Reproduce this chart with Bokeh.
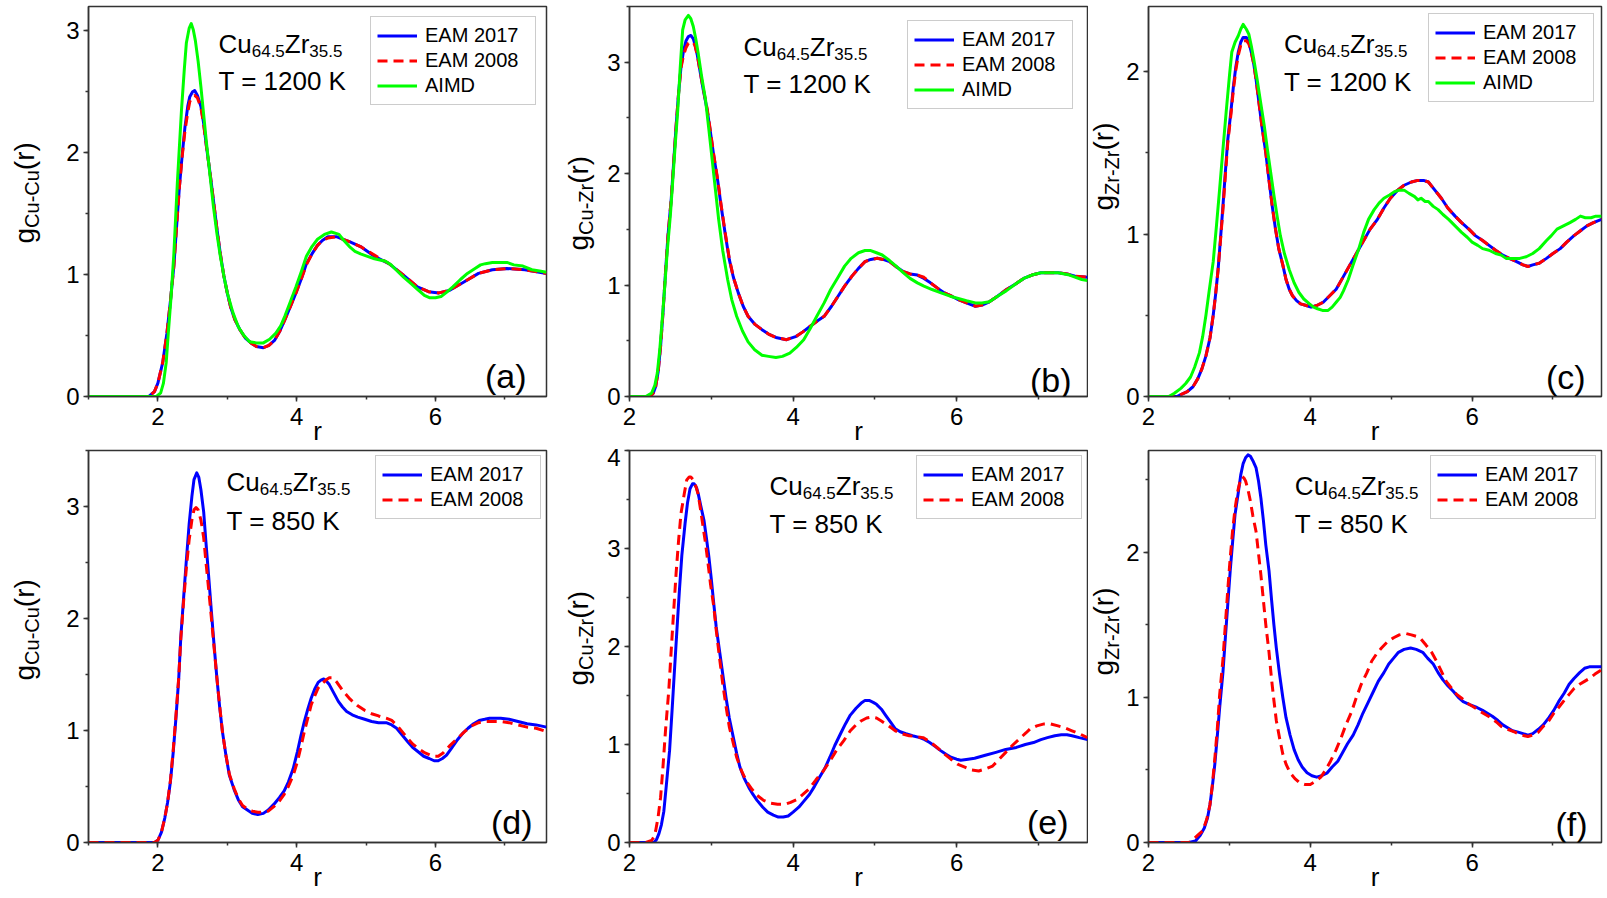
from math import pi

from bokeh.core.properties import value
from bokeh.embed import file_html
from bokeh.layouts import column, row
from bokeh.models import Label, Range1d, SingleIntervalTicker
from bokeh.plotting import figure
from bokeh.resources import INLINE

FONT = "Liberation Sans"
BLUE, RED, GREEN = "#0000FF", "#FF0000", "#00FF00"
AXIS = "#333333"

# ---------------------------------------------------------------- data
# (a) Cu-Cu, 1200 K
r_a = [
    1.00, 1.87, 1.95, 2.00, 2.07, 2.13, 2.18, 2.23, 2.27, 2.31,
    2.35, 2.39, 2.43, 2.46, 2.50, 2.53, 2.57, 2.62, 2.66, 2.70,
    2.75, 2.80, 2.85, 2.90, 2.95, 3.00, 3.05, 3.11, 3.18, 3.26,
    3.34, 3.42, 3.52, 3.60, 3.68, 3.76, 3.83, 3.91, 3.99, 4.07,
    4.14, 4.22, 4.30, 4.37, 4.45, 4.58, 4.67, 4.76, 4.92, 5.12,
    5.33, 5.53, 5.74, 5.90, 6.05, 6.20, 6.41, 6.62, 6.82, 7.03,
    7.29, 7.60]
g_a_2017 = [
    0.00, 0.00, 0.04, 0.11, 0.28, 0.52, 0.78, 1.07, 1.40, 1.72,
    1.98, 2.21, 2.38, 2.46, 2.50, 2.51, 2.47, 2.38, 2.24, 2.05,
    1.84, 1.61, 1.38, 1.17, 0.99, 0.85, 0.73, 0.63, 0.55, 0.48,
    0.44, 0.41, 0.40, 0.42, 0.46, 0.54, 0.63, 0.74, 0.85, 0.97,
    1.09, 1.17, 1.24, 1.28, 1.31, 1.31, 1.29, 1.27, 1.23, 1.15,
    1.09, 1.00, 0.90, 0.86, 0.85, 0.87, 0.94, 1.01, 1.04, 1.05,
    1.04, 1.01]
g_a_2008 = [
    0.00, 0.00, 0.04, 0.11, 0.28, 0.52, 0.78, 1.07, 1.40, 1.72,
    1.97, 2.18, 2.33, 2.42, 2.46, 2.47, 2.45, 2.37, 2.23, 2.05,
    1.84, 1.61, 1.38, 1.17, 0.99, 0.85, 0.73, 0.63, 0.55, 0.48,
    0.44, 0.41, 0.40, 0.42, 0.46, 0.54, 0.63, 0.74, 0.85, 0.97,
    1.08, 1.17, 1.24, 1.28, 1.30, 1.31, 1.29, 1.27, 1.23, 1.16,
    1.09, 1.00, 0.90, 0.86, 0.85, 0.87, 0.94, 1.01, 1.04, 1.05,
    1.04, 1.01]
r_a_aimd = [
    1.00, 1.98, 2.04, 2.08, 2.12, 2.15, 2.19, 2.23, 2.28, 2.34,
    2.38, 2.41, 2.45, 2.48, 2.51, 2.54, 2.58, 2.62, 2.66, 2.70,
    2.75, 2.80, 2.85, 2.90, 2.95, 3.00, 3.08, 3.16, 3.24, 3.32,
    3.42, 3.52, 3.61, 3.70, 3.77, 3.83, 3.91, 3.99, 4.07, 4.14,
    4.22, 4.30, 4.40, 4.50, 4.61, 4.68, 4.76, 4.84, 4.92, 5.02,
    5.12, 5.20, 5.28, 5.36, 5.43, 5.54, 5.64, 5.74, 5.84, 5.92,
    6.00, 6.08, 6.15, 6.25, 6.36, 6.46, 6.57, 6.65, 6.72, 6.82,
    6.93, 7.03, 7.13, 7.26, 7.39, 7.50, 7.60]
g_a_aimd = [
    0.00, 0.00, 0.03, 0.11, 0.28, 0.52, 0.82, 1.17, 1.75, 2.35,
    2.68, 2.90, 3.02, 3.06, 3.01, 2.92, 2.75, 2.54, 2.31, 2.08,
    1.82, 1.56, 1.34, 1.15, 0.99, 0.85, 0.69, 0.57, 0.50, 0.45,
    0.44, 0.44, 0.47, 0.52, 0.58, 0.66, 0.78, 0.90, 1.03, 1.15,
    1.23, 1.29, 1.33, 1.35, 1.33, 1.28, 1.23, 1.19, 1.17, 1.15,
    1.13, 1.12, 1.11, 1.08, 1.04, 0.98, 0.93, 0.88, 0.83, 0.81,
    0.81, 0.82, 0.85, 0.90, 0.96, 1.01, 1.05, 1.08, 1.09, 1.10,
    1.10, 1.10, 1.08, 1.07, 1.04, 1.03, 1.02]

# (b) Cu-Zr, 1200 K
r_b = [
    2.00, 2.25, 2.29, 2.32, 2.35, 2.38, 2.41, 2.44, 2.47, 2.51,
    2.54, 2.57, 2.60, 2.63, 2.66, 2.69, 2.72, 2.75, 2.78, 2.80,
    2.83, 2.86, 2.90, 2.95, 2.99, 3.03, 3.08, 3.12, 3.17, 3.22,
    3.27, 3.33, 3.39, 3.45, 3.53, 3.62, 3.70, 3.79, 3.92, 4.04,
    4.12, 4.21, 4.30, 4.38, 4.47, 4.55, 4.63, 4.72, 4.80, 4.88,
    4.95, 5.03, 5.10, 5.18, 5.27, 5.35, 5.43, 5.52, 5.60, 5.68,
    5.77, 5.85, 5.94, 6.02, 6.12, 6.23, 6.31, 6.40, 6.50, 6.61,
    6.72, 6.82, 6.92, 7.03, 7.13, 7.24, 7.35, 7.45, 7.60]
g_b_2017 = [
    0.00, 0.00, 0.03, 0.09, 0.22, 0.45, 0.76, 1.11, 1.44, 1.77,
    2.10, 2.43, 2.72, 2.96, 3.10, 3.19, 3.23, 3.24, 3.21, 3.16,
    3.06, 2.93, 2.76, 2.57, 2.37, 2.16, 1.93, 1.71, 1.46, 1.23,
    1.07, 0.93, 0.81, 0.72, 0.65, 0.60, 0.56, 0.53, 0.51, 0.54,
    0.58, 0.63, 0.68, 0.72, 0.81, 0.90, 0.99, 1.08, 1.15, 1.21,
    1.23, 1.24, 1.23, 1.21, 1.16, 1.12, 1.10, 1.09, 1.06, 1.02,
    0.97, 0.93, 0.90, 0.87, 0.84, 0.81, 0.82, 0.85, 0.90, 0.96,
    1.01, 1.06, 1.09, 1.11, 1.11, 1.11, 1.10, 1.08, 1.07]
g_b_2008 = [
    0.00, 0.00, 0.03, 0.09, 0.22, 0.45, 0.76, 1.11, 1.44, 1.77,
    2.10, 2.43, 2.72, 2.95, 3.06, 3.13, 3.17, 3.18, 3.18, 3.15,
    3.06, 2.93, 2.77, 2.58, 2.38, 2.17, 1.94, 1.72, 1.47, 1.24,
    1.07, 0.93, 0.81, 0.72, 0.65, 0.60, 0.56, 0.53, 0.51, 0.54,
    0.58, 0.63, 0.68, 0.72, 0.81, 0.90, 0.99, 1.08, 1.15, 1.21,
    1.23, 1.24, 1.23, 1.21, 1.16, 1.12, 1.10, 1.09, 1.07, 1.02,
    0.97, 0.93, 0.90, 0.87, 0.84, 0.81, 0.82, 0.85, 0.90, 0.96,
    1.01, 1.06, 1.09, 1.11, 1.11, 1.11, 1.10, 1.08, 1.07]
r_b_aimd = [
    2.00, 2.20, 2.27, 2.31, 2.34, 2.37, 2.40, 2.43, 2.46, 2.50,
    2.53, 2.56, 2.59, 2.62, 2.65, 2.68, 2.72, 2.75, 2.78, 2.81,
    2.84, 2.88, 2.93, 2.97, 3.01, 3.05, 3.09, 3.14, 3.20, 3.25,
    3.31, 3.38, 3.45, 3.53, 3.62, 3.70, 3.79, 3.87, 3.96, 4.04,
    4.13, 4.21, 4.29, 4.38, 4.46, 4.55, 4.63, 4.71, 4.80, 4.88,
    4.95, 5.02, 5.09, 5.18, 5.26, 5.35, 5.43, 5.52, 5.60, 5.70,
    5.81, 5.92, 6.02, 6.12, 6.23, 6.31, 6.40, 6.50, 6.61, 6.72,
    6.82, 6.92, 7.03, 7.13, 7.24, 7.38, 7.53, 7.60]
g_b_aimd = [
    0.00, 0.00, 0.03, 0.10, 0.21, 0.42, 0.69, 0.98, 1.29, 1.63,
    1.95, 2.27, 2.57, 2.95, 3.29, 3.38, 3.42, 3.39, 3.32, 3.21,
    3.08, 2.88, 2.66, 2.40, 2.13, 1.86, 1.59, 1.31, 1.05, 0.87,
    0.72, 0.59, 0.49, 0.42, 0.37, 0.36, 0.35, 0.36, 0.39, 0.44,
    0.51, 0.61, 0.72, 0.84, 0.96, 1.07, 1.17, 1.24, 1.29, 1.31,
    1.31, 1.29, 1.27, 1.22, 1.17, 1.11, 1.06, 1.02, 0.99, 0.96,
    0.93, 0.90, 0.88, 0.86, 0.84, 0.84, 0.85, 0.90, 0.95, 1.01,
    1.06, 1.09, 1.11, 1.11, 1.11, 1.09, 1.05, 1.04]

# (c) Zr-Zr, 1200 K
r_c = [
    2.00, 2.35, 2.48, 2.55, 2.61, 2.66, 2.71, 2.76, 2.80, 2.83,
    2.86, 2.89, 2.92, 2.95, 2.98, 3.02, 3.05, 3.08, 3.11, 3.14,
    3.17, 3.21, 3.24, 3.27, 3.30, 3.33, 3.36, 3.40, 3.45, 3.49,
    3.53, 3.57, 3.61, 3.66, 3.70, 3.74, 3.78, 3.83, 3.88, 3.95,
    4.01, 4.08, 4.16, 4.24, 4.32, 4.40, 4.49, 4.57, 4.66, 4.74,
    4.83, 4.91, 4.99, 5.08, 5.16, 5.25, 5.33, 5.40, 5.46, 5.54,
    5.62, 5.70, 5.79, 5.87, 5.96, 6.04, 6.13, 6.21, 6.29, 6.38,
    6.46, 6.55, 6.63, 6.69, 6.75, 6.83, 6.92, 7.00, 7.09, 7.17,
    7.26, 7.34, 7.42, 7.50, 7.60]
g_c_2017 = [
    0.00, 0.00, 0.03, 0.06, 0.11, 0.17, 0.25, 0.36, 0.50, 0.63,
    0.78, 0.97, 1.17, 1.38, 1.58, 1.76, 1.91, 2.03, 2.12, 2.18,
    2.21, 2.21, 2.18, 2.12, 2.05, 1.95, 1.83, 1.67, 1.50, 1.33,
    1.17, 1.03, 0.91, 0.81, 0.72, 0.66, 0.62, 0.59, 0.57, 0.56,
    0.55, 0.56, 0.58, 0.62, 0.66, 0.73, 0.81, 0.88, 0.96, 1.03,
    1.09, 1.16, 1.22, 1.27, 1.30, 1.32, 1.33, 1.33, 1.32, 1.27,
    1.22, 1.16, 1.11, 1.07, 1.03, 0.99, 0.96, 0.93, 0.90, 0.87,
    0.85, 0.83, 0.81, 0.80, 0.81, 0.82, 0.85, 0.88, 0.91, 0.95,
    0.99, 1.02, 1.05, 1.07, 1.09]
g_c_2008 = [
    0.00, 0.00, 0.03, 0.06, 0.11, 0.17, 0.25, 0.36, 0.50, 0.63,
    0.78, 0.96, 1.15, 1.36, 1.56, 1.74, 1.89, 2.01, 2.10, 2.16,
    2.19, 2.19, 2.17, 2.12, 2.05, 1.95, 1.83, 1.67, 1.50, 1.33,
    1.17, 1.03, 0.91, 0.81, 0.72, 0.66, 0.62, 0.59, 0.57, 0.56,
    0.55, 0.56, 0.58, 0.62, 0.66, 0.73, 0.81, 0.88, 0.96, 1.03,
    1.09, 1.16, 1.22, 1.27, 1.30, 1.32, 1.33, 1.33, 1.32, 1.27,
    1.22, 1.16, 1.11, 1.07, 1.03, 0.99, 0.96, 0.93, 0.90, 0.87,
    0.85, 0.83, 0.81, 0.80, 0.81, 0.82, 0.85, 0.88, 0.91, 0.95,
    0.99, 1.02, 1.05, 1.07, 1.09]
r_c_aimd = [
    2.00, 2.25, 2.32, 2.40, 2.46, 2.52, 2.57, 2.63, 2.67, 2.71,
    2.75, 2.80, 2.84, 2.88, 2.92, 2.96, 3.00, 3.03, 3.07, 3.11,
    3.14, 3.17, 3.21, 3.24, 3.27, 3.30, 3.34, 3.38, 3.43, 3.47,
    3.51, 3.55, 3.59, 3.63, 3.68, 3.74, 3.80, 3.86, 3.92, 3.99,
    4.04, 4.09, 4.15, 4.22, 4.27, 4.32, 4.37, 4.41, 4.47, 4.53,
    4.60, 4.66, 4.72, 4.79, 4.85, 4.91, 4.98, 5.04, 5.10, 5.16,
    5.22, 5.29, 5.33, 5.37, 5.42, 5.46, 5.52, 5.58, 5.64, 5.71,
    5.79, 5.87, 5.94, 6.00, 6.07, 6.13, 6.21, 6.29, 6.36, 6.42,
    6.50, 6.59, 6.67, 6.75, 6.83, 6.92, 6.98, 7.05, 7.13, 7.21,
    7.28, 7.34, 7.40, 7.47, 7.53, 7.60]
g_c_aimd = [
    0.00, 0.00, 0.02, 0.05, 0.08, 0.12, 0.18, 0.27, 0.37, 0.50,
    0.65, 0.83, 1.05, 1.28, 1.52, 1.75, 1.97, 2.12, 2.18, 2.22,
    2.26, 2.29, 2.26, 2.23, 2.16, 2.08, 1.96, 1.83, 1.67, 1.52,
    1.38, 1.24, 1.11, 0.99, 0.88, 0.78, 0.70, 0.64, 0.60, 0.57,
    0.55, 0.54, 0.53, 0.53, 0.55, 0.58, 0.61, 0.65, 0.72, 0.81,
    0.91, 1.01, 1.09, 1.15, 1.19, 1.22, 1.24, 1.26, 1.27, 1.27,
    1.25, 1.23, 1.21, 1.22, 1.20, 1.20, 1.17, 1.15, 1.12, 1.09,
    1.05, 1.01, 0.98, 0.95, 0.93, 0.91, 0.90, 0.88, 0.87, 0.85,
    0.85, 0.85, 0.86, 0.88, 0.91, 0.96, 0.99, 1.03, 1.05, 1.07,
    1.09, 1.11, 1.10, 1.10, 1.11, 1.11]

# (d) Cu-Cu, 850 K
r_d_2017 = [
    1.00, 1.95, 2.00, 2.05, 2.10, 2.14, 2.18, 2.22, 2.26, 2.30,
    2.33, 2.37, 2.41, 2.45, 2.49, 2.52, 2.56, 2.59, 2.62, 2.66,
    2.69, 2.73, 2.77, 2.81, 2.85, 2.89, 2.93, 2.98, 3.03, 3.10,
    3.16, 3.22, 3.29, 3.36, 3.44, 3.52, 3.59, 3.67, 3.75, 3.82,
    3.88, 3.95, 4.01, 4.06, 4.11, 4.16, 4.21, 4.26, 4.31, 4.35,
    4.39, 4.43, 4.47, 4.53, 4.60, 4.66, 4.72, 4.80, 4.88, 4.98,
    5.08, 5.18, 5.29, 5.37, 5.44, 5.52, 5.60, 5.67, 5.75, 5.83,
    5.91, 5.98, 6.04, 6.10, 6.16, 6.24, 6.32, 6.40, 6.47, 6.55,
    6.63, 6.71, 6.78, 6.86, 6.94, 7.06, 7.19, 7.32, 7.45, 7.60]
g_d_2017 = [
    0.00, 0.00, 0.02, 0.09, 0.22, 0.36, 0.54, 0.80, 1.11, 1.46,
    1.83, 2.18, 2.52, 2.84, 3.09, 3.24, 3.30, 3.26, 3.15, 2.95,
    2.70, 2.39, 2.07, 1.76, 1.47, 1.21, 0.99, 0.78, 0.60, 0.47,
    0.38, 0.32, 0.29, 0.26, 0.25, 0.26, 0.29, 0.34, 0.40, 0.46,
    0.54, 0.66, 0.81, 0.95, 1.08, 1.19, 1.29, 1.37, 1.43, 1.45,
    1.46, 1.44, 1.41, 1.34, 1.26, 1.21, 1.17, 1.14, 1.12, 1.10,
    1.08, 1.07, 1.07, 1.05, 1.02, 0.96, 0.90, 0.85, 0.81, 0.77,
    0.75, 0.73, 0.73, 0.75, 0.78, 0.85, 0.92, 0.98, 1.02, 1.06,
    1.09, 1.10, 1.11, 1.11, 1.11, 1.10, 1.08, 1.06, 1.05, 1.03]
r_d_2008 = [
    1.00, 1.95, 2.00, 2.05, 2.10, 2.14, 2.18, 2.22, 2.26, 2.30,
    2.33, 2.37, 2.41, 2.45, 2.49, 2.52, 2.55, 2.58, 2.62, 2.66,
    2.69, 2.73, 2.77, 2.81, 2.85, 2.89, 2.93, 2.98, 3.03, 3.10,
    3.16, 3.22, 3.29, 3.36, 3.44, 3.52, 3.59, 3.67, 3.75, 3.82,
    3.88, 3.95, 4.01, 4.06, 4.11, 4.16, 4.21, 4.26, 4.31, 4.37,
    4.42, 4.47, 4.52, 4.58, 4.67, 4.77, 4.88, 4.98, 5.08, 5.18,
    5.29, 5.37, 5.44, 5.52, 5.60, 5.67, 5.75, 5.85, 5.96, 6.04,
    6.11, 6.20, 6.32, 6.42, 6.52, 6.62, 6.73, 6.84, 6.94, 7.06,
    7.19, 7.32, 7.45, 7.60]
g_d_2008 = [
    0.00, 0.00, 0.02, 0.09, 0.22, 0.36, 0.55, 0.82, 1.13, 1.47,
    1.82, 2.15, 2.45, 2.70, 2.88, 2.97, 2.99, 2.97, 2.88, 2.72,
    2.52, 2.27, 2.01, 1.74, 1.47, 1.22, 0.99, 0.78, 0.61, 0.48,
    0.39, 0.33, 0.30, 0.28, 0.27, 0.27, 0.28, 0.32, 0.37, 0.43,
    0.50, 0.60, 0.72, 0.85, 0.99, 1.11, 1.23, 1.31, 1.38, 1.42,
    1.45, 1.47, 1.47, 1.43, 1.35, 1.28, 1.22, 1.18, 1.15, 1.13,
    1.11, 1.09, 1.05, 0.99, 0.93, 0.88, 0.84, 0.80, 0.77, 0.77,
    0.80, 0.86, 0.93, 0.99, 1.04, 1.07, 1.08, 1.08, 1.08, 1.07,
    1.05, 1.03, 1.02, 0.99]

# (e) Cu-Zr, 850 K
r_e_2017 = [
    2.00, 2.30, 2.33, 2.36, 2.39, 2.42, 2.45, 2.49, 2.52, 2.55,
    2.58, 2.61, 2.64, 2.68, 2.71, 2.74, 2.77, 2.79, 2.82, 2.84,
    2.87, 2.91, 2.94, 2.97, 3.00, 3.03, 3.06, 3.10, 3.14, 3.18,
    3.22, 3.27, 3.31, 3.35, 3.40, 3.46, 3.51, 3.56, 3.63, 3.69,
    3.76, 3.82, 3.88, 3.94, 4.00, 4.07, 4.13, 4.20, 4.26, 4.32,
    4.39, 4.45, 4.51, 4.58, 4.64, 4.70, 4.77, 4.83, 4.88, 4.93,
    4.98, 5.02, 5.08, 5.13, 5.19, 5.25, 5.31, 5.38, 5.46, 5.55,
    5.61, 5.67, 5.74, 5.80, 5.87, 5.93, 6.00, 6.05, 6.14, 6.22,
    6.35, 6.48, 6.60, 6.73, 6.84, 6.94, 7.03, 7.11, 7.20, 7.28,
    7.35, 7.41, 7.50, 7.60]
g_e_2017 = [
    0.00, 0.00, 0.03, 0.09, 0.18, 0.32, 0.58, 0.94, 1.34, 1.76,
    2.17, 2.57, 2.93, 3.26, 3.47, 3.61, 3.66, 3.66, 3.62, 3.56,
    3.44, 3.29, 3.11, 2.92, 2.69, 2.44, 2.20, 1.96, 1.72, 1.48,
    1.27, 1.07, 0.91, 0.77, 0.66, 0.56, 0.49, 0.43, 0.36, 0.31,
    0.28, 0.26, 0.26, 0.27, 0.31, 0.36, 0.42, 0.49, 0.57, 0.66,
    0.76, 0.87, 0.99, 1.11, 1.21, 1.30, 1.37, 1.42, 1.45, 1.45,
    1.43, 1.41, 1.36, 1.30, 1.23, 1.16, 1.13, 1.11, 1.09, 1.07,
    1.05, 1.02, 0.98, 0.94, 0.90, 0.87, 0.85, 0.84, 0.85, 0.86,
    0.89, 0.92, 0.95, 0.97, 1.00, 1.02, 1.05, 1.07, 1.09, 1.10,
    1.10, 1.09, 1.07, 1.05]
r_e_2008 = [
    2.00, 2.20, 2.27, 2.30, 2.32, 2.35, 2.38, 2.41, 2.44, 2.48,
    2.51, 2.54, 2.57, 2.60, 2.63, 2.67, 2.70, 2.73, 2.75, 2.78,
    2.80, 2.84, 2.87, 2.90, 2.93, 2.96, 2.99, 3.03, 3.06, 3.10,
    3.14, 3.18, 3.22, 3.27, 3.31, 3.37, 3.44, 3.50, 3.56, 3.64,
    3.73, 3.81, 3.90, 3.97, 4.05, 4.12, 4.20, 4.28, 4.37, 4.45,
    4.53, 4.62, 4.70, 4.77, 4.83, 4.90, 4.96, 5.02, 5.08, 5.17,
    5.25, 5.33, 5.42, 5.51, 5.59, 5.67, 5.76, 5.84, 5.93, 6.01,
    6.10, 6.18, 6.27, 6.35, 6.44, 6.52, 6.60, 6.68, 6.77, 6.85,
    6.90, 6.98, 7.07, 7.15, 7.24, 7.32, 7.41, 7.50, 7.60]
g_e_2008 = [
    0.00, 0.00, 0.02, 0.06, 0.12, 0.26, 0.46, 0.78, 1.14, 1.55,
    1.96, 2.36, 2.75, 3.08, 3.36, 3.56, 3.70, 3.73, 3.73, 3.70,
    3.67, 3.55, 3.39, 3.22, 3.05, 2.85, 2.64, 2.41, 2.17, 1.89,
    1.62, 1.39, 1.18, 1.01, 0.87, 0.73, 0.61, 0.54, 0.48, 0.43,
    0.40, 0.39, 0.39, 0.41, 0.44, 0.49, 0.55, 0.64, 0.73, 0.83,
    0.94, 1.04, 1.14, 1.20, 1.24, 1.27, 1.28, 1.27, 1.24, 1.19,
    1.14, 1.11, 1.09, 1.08, 1.07, 1.03, 0.97, 0.91, 0.85, 0.80,
    0.77, 0.74, 0.73, 0.75, 0.78, 0.85, 0.92, 0.99, 1.06, 1.12,
    1.16, 1.19, 1.21, 1.21, 1.19, 1.17, 1.14, 1.11, 1.07]

# (f) Zr-Zr, 850 K
r_f_2017 = [
    2.00, 2.50, 2.58, 2.64, 2.69, 2.73, 2.76, 2.79, 2.82, 2.85,
    2.88, 2.92, 2.95, 2.98, 3.01, 3.04, 3.07, 3.11, 3.14, 3.17,
    3.20, 3.23, 3.26, 3.29, 3.33, 3.36, 3.39, 3.42, 3.45, 3.49,
    3.52, 3.55, 3.58, 3.62, 3.66, 3.70, 3.75, 3.80, 3.85, 3.90,
    3.96, 4.02, 4.08, 4.14, 4.21, 4.27, 4.34, 4.40, 4.46, 4.53,
    4.59, 4.65, 4.72, 4.78, 4.84, 4.91, 4.97, 5.03, 5.09, 5.16,
    5.24, 5.31, 5.39, 5.45, 5.52, 5.58, 5.64, 5.70, 5.77, 5.83,
    5.89, 5.97, 6.06, 6.13, 6.19, 6.25, 6.32, 6.38, 6.44, 6.50,
    6.57, 6.63, 6.69, 6.75, 6.82, 6.88, 6.95, 7.01, 7.07, 7.14,
    7.20, 7.26, 7.33, 7.39, 7.45, 7.52, 7.60]
g_f_2017 = [
    0.00, 0.00, 0.01, 0.05, 0.10, 0.17, 0.26, 0.39, 0.54, 0.73,
    0.93, 1.17, 1.41, 1.64, 1.87, 2.07, 2.26, 2.41, 2.53, 2.61,
    2.65, 2.67, 2.66, 2.63, 2.58, 2.49, 2.37, 2.22, 2.05, 1.87,
    1.68, 1.50, 1.34, 1.16, 1.00, 0.86, 0.74, 0.64, 0.57, 0.52,
    0.48, 0.46, 0.45, 0.46, 0.48, 0.52, 0.56, 0.62, 0.68, 0.74,
    0.81, 0.89, 0.97, 1.04, 1.11, 1.17, 1.23, 1.27, 1.31, 1.33,
    1.34, 1.33, 1.31, 1.27, 1.23, 1.17, 1.12, 1.08, 1.04, 1.00,
    0.97, 0.95, 0.93, 0.91, 0.89, 0.87, 0.84, 0.81, 0.79, 0.77,
    0.76, 0.75, 0.74, 0.75, 0.78, 0.81, 0.86, 0.91, 0.97, 1.03,
    1.09, 1.13, 1.17, 1.20, 1.21, 1.21, 1.21]
r_f_2008 = [
    2.00, 2.50, 2.55, 2.61, 2.67, 2.72, 2.76, 2.79, 2.82, 2.85,
    2.88, 2.92, 2.95, 2.98, 3.01, 3.04, 3.07, 3.10, 3.12, 3.14,
    3.16, 3.18, 3.20, 3.23, 3.26, 3.29, 3.33, 3.36, 3.39, 3.42,
    3.45, 3.49, 3.52, 3.55, 3.58, 3.62, 3.66, 3.70, 3.75, 3.81,
    3.87, 3.93, 4.00, 4.06, 4.13, 4.19, 4.25, 4.32, 4.38, 4.44,
    4.51, 4.57, 4.63, 4.70, 4.76, 4.82, 4.88, 4.95, 5.03, 5.10,
    5.18, 5.25, 5.31, 5.37, 5.43, 5.50, 5.56, 5.62, 5.68, 5.75,
    5.81, 5.88, 5.94, 6.03, 6.11, 6.17, 6.23, 6.30, 6.36, 6.44,
    6.53, 6.61, 6.69, 6.75, 6.82, 6.88, 6.95, 7.01, 7.07, 7.14,
    7.20, 7.26, 7.33, 7.39, 7.45, 7.52, 7.60]
g_f_2008 = [
    0.00, 0.00, 0.02, 0.05, 0.08, 0.16, 0.26, 0.40, 0.58, 0.78,
    1.02, 1.26, 1.50, 1.74, 1.96, 2.15, 2.30, 2.41, 2.46, 2.50,
    2.52, 2.51, 2.49, 2.43, 2.35, 2.25, 2.14, 1.99, 1.84, 1.67,
    1.50, 1.31, 1.13, 0.98, 0.84, 0.72, 0.61, 0.54, 0.48, 0.44,
    0.41, 0.40, 0.40, 0.42, 0.45, 0.50, 0.56, 0.64, 0.72, 0.81,
    0.90, 1.00, 1.09, 1.17, 1.25, 1.30, 1.34, 1.38, 1.41, 1.43,
    1.44, 1.43, 1.42, 1.40, 1.36, 1.31, 1.25, 1.18, 1.11, 1.06,
    1.02, 0.99, 0.96, 0.93, 0.90, 0.88, 0.86, 0.83, 0.80, 0.78,
    0.76, 0.74, 0.73, 0.74, 0.76, 0.80, 0.84, 0.89, 0.93, 0.98,
    1.02, 1.06, 1.09, 1.11, 1.13, 1.16, 1.19]

SERIES_NAMES = ["EAM 2017", "EAM 2008", "AIMD"]
COMPOSITION = [("Cu", False), ("64.5", True), ("Zr", False), ("35.5", True)]

PANELS = [
    dict(tag="(a)", pair="Cu-Cu", temp="T = 1200 K", x=(1.0, 7.6), y=(0.0, 3.2),
         curves=[(r_a, g_a_2017), (r_a, g_a_2008), (r_a_aimd, g_a_aimd)]),
    dict(tag="(b)", pair="Cu-Zr", temp="T = 1200 K", x=(2.0, 7.6), y=(0.0, 3.5),
         curves=[(r_b, g_b_2017), (r_b, g_b_2008), (r_b_aimd, g_b_aimd)]),
    dict(tag="(c)", pair="Zr-Zr", temp="T = 1200 K", x=(2.0, 7.6), y=(0.0, 2.4),
         curves=[(r_c, g_c_2017), (r_c, g_c_2008), (r_c_aimd, g_c_aimd)]),
    dict(tag="(d)", pair="Cu-Cu", temp="T = 850 K", x=(1.0, 7.6), y=(0.0, 3.5),
         curves=[(r_d_2017, g_d_2017), (r_d_2008, g_d_2008)]),
    dict(tag="(e)", pair="Cu-Zr", temp="T = 850 K", x=(2.0, 7.6), y=(0.0, 4.0),
         curves=[(r_e_2017, g_e_2017), (r_e_2008, g_e_2008)]),
    dict(tag="(f)", pair="Zr-Zr", temp="T = 850 K", x=(2.0, 7.6), y=(0.0, 2.7),
         curves=[(r_f_2017, g_f_2017), (r_f_2008, g_f_2008)]),
]

# ---------------------------------------------------------------- layout
# each column: y-title strip width, then plot width with left / right border
COLS = [(44, 512, 44, 10), (42, 490, 31, 1), (35, 484, 23, 6)]
ROWS = [(448, 6, 52), (450, 2, 56)]                    # height, top, bottom border

# y-title: baseline x inside its strip, bottom of the text in px from the row top
YTITLE = [(33.5, 243), (31.5, 250), (25.0, 210), (33.5, 232), (31.5, 237), (25.0, 227)]
SUB_SHIFT = 5

# in-frame texts, px from the frame's top-left / right / bottom edges
PLACE = [
    dict(comp=(130, 37.5, 74.0), tag=(20, 21), margin=10),
    dict(comp=(114, 40.5, 77.0), tag=(16, 17), margin=14),
    dict(comp=(136, 37.0, 75.5), tag=(16, 20), margin=7),
    dict(comp=(138, 31.5, 70.0), tag=(14, 21), margin=5),
    dict(comp=(140, 35.0, 73.0), tag=(19, 21), margin=5),
    dict(comp=(147, 35.0, 73.0), tag=(14, 19), margin=5),
]

STYLE = [dict(color=BLUE, dash="solid"), dict(color=RED, dash="10 6"), dict(color=GREEN, dash="solid")]

TICK_PX, YLAB_PX, YSUB_PX, COMP_PX, CSUB_PX, TAG_PX, R_PX, LEG_PX = 24, 28, 20, 26, 17, 34, 26, 20

# Arial-metric advance widths (em) for composing sub-scripted labels
ADV = {"C": 0.722, "u": 0.556, "-": 0.333, "Z": 0.611, "r": 0.333, "g": 0.556,
       "(": 0.333, ")": 0.333, ".": 0.278, " ": 0.278}
BASE_TO_MID = 0.3465   # (ascent - descent) / 2 for Liberation Sans, in em


def text_width(s, size):
    return sum(ADV.get(ch, 0.556) for ch in s) * size


def make_title_strip(i, spec):
    width = COLS[i % 3][0]
    height, bt, bb = ROWS[i // 3]
    # the strip shares its row's frame band, so its y data equals px from the canvas bottom
    s = figure(width=width, height=height, x_range=Range1d(0, width), y_range=Range1d(bb, height - bt),
               toolbar_location=None, output_backend="svg",
               min_border_left=0, min_border_right=0, min_border_top=bt, min_border_bottom=bb,
               x_axis_location=None, y_axis_location=None,
               background_fill_color="white", border_fill_color="white")
    s.outline_line_color = None
    s.grid.visible = False
    bx, top = YTITLE[i]
    run = 0.0
    for txt, size, shift in (("g", YLAB_PX, 0), (spec["pair"], YSUB_PX, SUB_SHIFT), ("(r)", YLAB_PX, 0)):
        w = text_width(txt, size)
        # rotated text anchored at its centre; the baseline sits on the right side
        s.text(x=[bx + shift - BASE_TO_MID * size], y=[height - top + run + w / 2], text=[txt],
               angle=pi / 2, text_align="center", text_baseline="middle", text_color="black",
               text_font=value(FONT), text_font_size=value(f"{size}px"))
        run += w
    return s


def make_panel(i, spec, place):
    _, width, bl, br = COLS[i % 3]
    height, bt, bb = ROWS[i // 3]
    fw, fh = width - bl - br, height - bt - bb
    x0, x1 = spec["x"]
    y0, y1 = spec["y"]

    p = figure(width=width, height=height, x_range=Range1d(x0, x1), y_range=Range1d(y0, y1),
               toolbar_location=None, output_backend="svg",
               min_border_left=bl, min_border_right=br, min_border_top=bt, min_border_bottom=bb,
               background_fill_color="white", border_fill_color="white")
    p.xgrid.visible = False
    p.ygrid.visible = False
    p.outline_line_color = AXIS
    p.outline_line_width = 1.5
    p.outline_line_alpha = 1.0

    p.xaxis.ticker = SingleIntervalTicker(interval=2, num_minor_ticks=2)
    p.yaxis.ticker = SingleIntervalTicker(interval=1, num_minor_ticks=2)
    for ax in (p.xaxis[0], p.yaxis[0]):
        ax.axis_line_color = AXIS
        ax.axis_line_width = 1.5
        ax.major_tick_line_color = AXIS
        ax.major_tick_line_width = 1.5
        ax.major_tick_in = 0
        ax.major_tick_out = 5
        ax.minor_tick_line_color = AXIS
        ax.minor_tick_line_width = 1.5
        ax.minor_tick_in = 0
        ax.minor_tick_out = 3
        ax.major_label_text_font = FONT
        ax.major_label_text_font_size = f"{TICK_PX}px"
        ax.major_label_text_color = "black"
    p.xaxis.major_label_standoff = 6
    p.yaxis.major_label_standoff = 4

    p.xaxis.axis_label = "r"
    p.xaxis.axis_label_text_font = FONT
    p.xaxis.axis_label_text_font_size = f"{R_PX}px"
    p.xaxis.axis_label_text_font_style = "normal"
    p.xaxis.axis_label_text_color = "black"
    p.xaxis.axis_label_standoff = -12

    for (r, g), name, st in zip(spec["curves"], SERIES_NAMES, STYLE):
        p.line(r, g, line_color=st["color"], line_width=3, line_dash=st["dash"],
               line_join="round", legend_label=name)

    lg = p.legend[0]
    lg.location = "top_right"
    lg.margin = place["margin"]
    lg.padding = 6
    lg.spacing = 0
    lg.label_height = 25
    lg.glyph_height = 25
    lg.glyph_width = 40
    lg.label_standoff = 8
    lg.label_width = 104
    lg.border_line_color = "#9a9a9a"
    lg.border_line_width = 1.5
    lg.background_fill_color = "white"
    lg.background_fill_alpha = 1.0
    lg.label_text_font = FONT
    lg.label_text_font_size = f"{LEG_PX}px"
    lg.label_text_color = "black"

    def put(dx, dy, text, size, align="left"):
        p.add_layout(Label(
            x=x0 + dx * (x1 - x0) / fw, y=y1 - dy * (y1 - y0) / fh,
            text=text, text_font=FONT, text_font_size=f"{size}px", text_color="black",
            text_align=align, text_baseline="alphabetic"))

    # composition and temperature
    cx, cy, ty = place["comp"]
    run = 0.0
    for txt, is_sub in COMPOSITION:
        size = CSUB_PX if is_sub else COMP_PX
        put(cx + run, cy + (7 if is_sub else 0), txt, size)
        run += text_width(txt, size)
    put(cx, ty, spec["temp"], COMP_PX)

    # panel tag
    gap, above = place["tag"]
    put(fw - gap, fh - above, spec["tag"], TAG_PX, align="right")
    return p


cells = []
for i, (spec, pl) in enumerate(zip(PANELS, PLACE)):
    cells.append(make_title_strip(i, spec))
    cells.append(make_panel(i, spec, pl))

layout = column(row(*cells[:6]), row(*cells[6:]))

open("out.html", "w").write(file_html(layout, INLINE, title="Partial pair distribution functions"))
